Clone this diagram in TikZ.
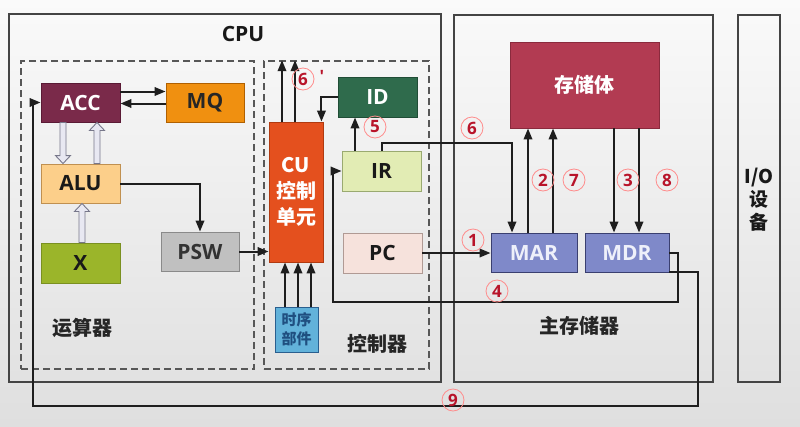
\documentclass[tikz,border=0pt]{standalone}
\usepackage{fontspec}
\setmainfont{Open Sans}
\newfontfamily\cjk{Noto Sans CJK SC}
\usetikzlibrary{arrows.meta,calc}
\definecolor{bgtop}{HTML}{FAFAFA}
\definecolor{bgbot}{HTML}{DFDFDF}
\definecolor{linec}{HTML}{1E1E1E}
\definecolor{framec}{HTML}{444444}
\definecolor{accf}{HTML}{7A2A4A}\definecolor{accd}{HTML}{5A1A35}
\definecolor{mqf}{HTML}{F09010}\definecolor{mqd}{HTML}{B06000}
\definecolor{aluf}{HTML}{FCCF8A}\definecolor{alud}{HTML}{C09050}
\definecolor{xf}{HTML}{9BB52A}\definecolor{xd}{HTML}{7A9020}
\definecolor{pswf}{HTML}{C0C0C0}\definecolor{pswd}{HTML}{8A8A8A}
\definecolor{cuf}{HTML}{E4501E}\definecolor{cud}{HTML}{B03A10}
\definecolor{idf}{HTML}{2F6B4C}\definecolor{idd}{HTML}{204D36}
\definecolor{irf}{HTML}{E2ECB4}\definecolor{ird}{HTML}{9AAA70}
\definecolor{pcf}{HTML}{F6E2DC}\definecolor{pcd}{HTML}{B09A94}
\definecolor{tmf}{HTML}{62B2DA}\definecolor{tmd}{HTML}{2A5F8F}\definecolor{tmt}{HTML}{1F4F80}
\definecolor{memf}{HTML}{B23B52}\definecolor{memd}{HTML}{8A2A3D}
\definecolor{marf}{HTML}{7F89C9}\definecolor{mard}{HTML}{3A3F70}\definecolor{mart}{HTML}{EEF0FA}
\definecolor{numred}{HTML}{B8142A}
\definecolor{hollowf}{HTML}{E8E8F2}\definecolor{hollowd}{HTML}{77778A}
\newcommand\harrow[3]{\filldraw[hollowarr] ($(#1)+(-3,0)$) -- ($(#2)+(-3,#3)$) -- ($(#2)+(-7.5,#3)$) -- (#2) -- ($(#2)+(7.5,#3)$) -- ($(#2)+(3,#3)$) -- ($(#1)+(3,0)$) -- cycle;}
\begin{document}
\begin{tikzpicture}[x=1pt,y=-1pt,
  box/.style={rectangle,inner sep=0pt,line width=0.9pt,font=\bfseries\fontsize{21}{22}\selectfont},
  frame/.style={rectangle,inner sep=0pt,draw=framec,line width=1.6pt},
  dashbox/.style={rectangle,inner sep=0pt,draw=framec!90,line width=1.6pt,dash pattern=on 7pt off 4pt},
  arr/.style={draw=linec,line width=2pt,-{Triangle[length=11pt,width=8.5pt]}},
  hollowarr/.style={fill=hollowf,draw=hollowd,line width=0.9pt},
  circ/.style={circle,draw=red!45,line width=0.8pt,minimum size=22pt,inner sep=0pt,text=numred,font=\bfseries\fontsize{17}{17}\selectfont},
  lbl/.style={font=\cjk\bfseries\fontsize{20}{22}\selectfont,text=black!85}]
\useasboundingbox (0,0) rectangle (800,426);
\shade[top color=bgtop,bottom color=bgbot] (0,0) rectangle (800,426);

% frames
\node[frame,minimum width=432pt,minimum height=368pt] (cpu) at (225,198) {};
\node[dashbox,minimum width=233pt,minimum height=308pt] (aluarea) at (137.5,215) {};
\node[dashbox,minimum width=165pt,minimum height=308pt] (ctrl) at (346.5,215) {};
\node[frame,minimum width=259pt,minimum height=367pt] (mainmem) at (583.5,198.5) {};
\node[frame,minimum width=42pt,minimum height=367pt] (io) at (759,198.5) {};

\node[font=\bfseries\fontsize{21}{22}\selectfont,text=black!90] (cputxt) at (243,34) {CPU};
\node[lbl] (alutxt) at (82,328) {运算器};
\node[lbl] (ctrltxt) at (377,344) {控制器};
\node[lbl] (memtxt) at (579,326) {主存储器};
\node[font=\cjk\bfseries\fontsize{19}{23}\selectfont,align=center,text=black!90] (iotxt) at (759,200) {I/O\\设\\备};

% boxes
\node[box,fill=accf,draw=accd,text=white,minimum width=79pt,minimum height=39pt] (acc) at (80.5,102.5) {ACC};
\node[box,fill=mqf,draw=mqd,text=black!85,minimum width=78pt,minimum height=39pt] (mq) at (205,102.5) {MQ};
\node[box,fill=aluf,draw=alud,text=black!90,minimum width=79pt,minimum height=39pt] (alu) at (80.5,183.5) {ALU};
\node[box,fill=xf,draw=xd,text=black!90,minimum width=79pt,minimum height=40pt] (xr) at (80.5,263) {X};
\node[box,fill=pswf,draw=pswd,text=black!80,minimum width=78pt,minimum height=39pt] (psw) at (200,251.5) {PSW};
\node[box,fill=cuf,draw=cud,text=white,minimum width=54pt,minimum height=140pt,align=center,font=\cjk\bfseries\fontsize{20}{26}\selectfont] (cu) at (296,192) {CU\\控制\\单元};
\node[box,fill=idf,draw=idd,text=white,minimum width=79pt,minimum height=40pt] (id) at (377.5,97) {ID};
\node[box,fill=irf,draw=ird,text=black!90,minimum width=79pt,minimum height=40pt] (ir) at (381.5,171) {IR};
\node[box,fill=pcf,draw=pcd,text=black!90,minimum width=79pt,minimum height=40pt] (pc) at (382.5,253) {PC};
\node[box,fill=tmf,draw=tmd,text=tmt,minimum width=43pt,minimum height=45pt,align=center,font=\cjk\bfseries\fontsize{15}{19}\selectfont] (timing) at (296.5,329.5) {时序\\部件};
\node[box,fill=memf,draw=memd,text=white,minimum width=149pt,minimum height=86pt,font=\cjk\bfseries\fontsize{20}{22}\selectfont] (mem) at (584.5,85) {存储体};
\node[box,fill=marf,draw=mard,text=mart,minimum width=86pt,minimum height=39pt] (mar) at (534,252.5) {MAR};
\node[box,fill=marf,draw=mard,text=mart,minimum width=84pt,minimum height=39pt] (mdr) at (627,252.5) {MDR};

% ACC <-> MQ
\draw[arr] ([yshift=11pt]acc.east) -- ([yshift=11pt]mq.west);
\draw[arr] ([yshift=-1pt]mq.west) -- ([yshift=-1pt]acc.east);
% hollow arrows
\coordinate (h1a) at ([xshift=-17.5pt]acc.south);
\coordinate (h1b) at ([xshift=-17.5pt]alu.north);
\harrow{h1a}{h1b}{-8}
\coordinate (h2a) at ([xshift=16.5pt]alu.north);
\coordinate (h2b) at ([xshift=16.5pt]acc.south);
\harrow{h2a}{h2b}{8}
\coordinate (h3a) at ([xshift=1.5pt]xr.north);
\coordinate (h3b) at ([xshift=1.5pt]alu.south);
\harrow{h3a}{h3b}{8}
% ALU -> PSW -> CU
\draw[arr] (alu.east) -| (psw.north);
\draw[arr] (psw.east) -- (psw.east -| cu.west);
% timing -> CU
\foreach \s in {-11.5,1.5,14.5}
  \draw[arr] ([xshift=\s pt]timing.north) coordinate (t) -- (t |- cu.south);
% CU up (6')
\foreach \s in {-14,-1}
  \draw[arr] ([xshift=\s pt]cu.north) coordinate (t) -- (t |- ctrl.north);
% ID -> CU
\draw[arr] (id.west) -| ([xshift=-2pt]cu.north east);
% IR -> ID (5)
\draw[arr] ([xshift=-26.5pt]ir.north) coordinate (t) -- (t |- id.south);
% IR -> MAR (6)
\draw[arr] (ir.north) -- ++(0,-8) -| ([xshift=-22pt]mar.north);
% PC -> MAR (1)
\draw[arr] (pc.east) -- (pc.east -| mar.west);
% MAR -> mem (2)(7)
\foreach \s in {-6,19}
  \draw[arr] ([xshift=\s pt]mar.north) coordinate (t) -- (t |- mem.south);
% mem -> MDR (3)(8)
\foreach \s in {-13,12}{
  \coordinate (t) at ([xshift=\s pt]mdr.north);
  \draw[arr] (t |- mem.south) -- (t);}
% MDR -> IR (4)
\coordinate (b4) at (333,302);
\draw[arr] (mdr.east) -- ++(9,0) |- (b4) |- (ir.west);
% MDR -> ACC (9)
\coordinate (b9) at (33,406);
\draw[arr] ([yshift=-19pt]mdr.east) -- ++(29,0) |- (b9) |- (acc.west);

% circled numbers
\node[circ] (n6p) at (303,79) {6};
\node[text=numred,font=\bfseries\fontsize{17}{17}\selectfont] (n6pp) at (322,76) {\textquotesingle};
\node[circ] (n5) at (375,127) {5};
\node[circ] (n6) at (472,128) {6};
\node[circ] (n1) at (473,240) {1};
\node[circ] (n4) at (497,291) {4};
\node[circ] (n2) at (543,180) {2};
\node[circ] (n7) at (574,180) {7};
\node[circ] (n3) at (628,180) {3};
\node[circ] (n8) at (667,180) {8};
\node[circ] (n9) at (453,400) {9};
\end{tikzpicture}
\end{document}
